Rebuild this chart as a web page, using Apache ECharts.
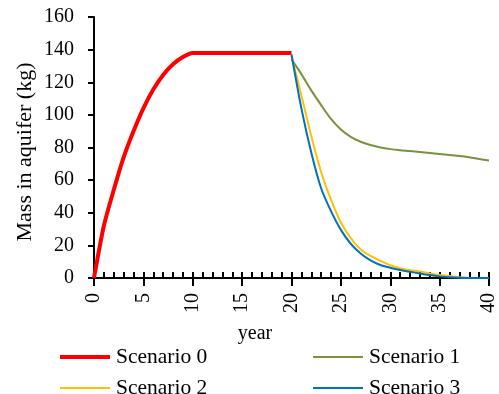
<!DOCTYPE html>
<html><head><meta charset="utf-8">
<script src="https://cdn.jsdelivr.net/npm/echarts@6/dist/echarts.min.js"></script>
<style>html,body{margin:0;padding:0;background:#fff}#c{width:499px;height:394px}</style>
</head><body><div id="c"></div>
<script>
const years0 = [0,1,2,3,4,5,6,7,8,9,10,11,12,13,14,15,16,17,18,19,20];
const scen0 = [0,32,54,74,90,104,115.5,124.5,131,135.5,138,138,138,138,138,138,138,138,138,138,138];
const yearsB = [20,21,22,23,24,25,26,27,28,29,30,31,32,33,34,35,36,37,38,39,40];
const scen1 = [134,125,115,106,97.5,91,86.5,83.5,81.5,80,79,78.3,77.8,77.2,76.6,76,75.4,74.8,74,73,72];
const scen2 = [136,112,87,65,48,34,24.5,17.5,13.5,10.5,7.8,6,4.8,4,2.8,1.9,1.2,0.4,0,0,0];
const scen3 = [137,104,77,55,41,29.5,21,15,10.8,8,6.3,4.9,3.8,2.8,1.8,1,0.4,0.1,0,0,0];
const xTicks = {min:0, max:40, interval:5};
const yTicks = {min:0, max:160, interval:20};
const names = ['Scenario 0','Scenario 1','Scenario 2','Scenario 3'];

const zip = (xs, ys) => xs.map((x,i)=>[x, ys[i]]);
const FONT = '"Liberation Serif","Times New Roman",serif';
const chart = echarts.init(document.getElementById('c'));
const colors = ['#FF0000','#77933C','#FFC000','#0070C0'];
const widths = [4,2,2,2];
const mk = (i, xs, ys) => ({
  name:names[i], type:'line', xAxisIndex:0, yAxisIndex:0, data: zip(xs, ys),
  showSymbol:false, symbol:'none', smooth:0.25,
  lineStyle:{color:colors[i], width:widths[i]}, itemStyle:{color:colors[i]}, z: i===0?3:2
});
const lg = (i, left, top) => ({
  data:[{name:names[i], icon:'rect'}], orient:'horizontal', left, top,
  itemWidth:50, itemHeight:widths[i], itemGap:0,
  itemStyle:{color:colors[i], borderWidth:0},
  textStyle:{fontSize:21.5, color:'#000', fontFamily:FONT, lineHeight:22, padding:[0,0,0,1]}
});
chart.setOption({
  animation:false,
  textStyle:{fontFamily:FONT},
  grid:{left:94, right:8, top:17, bottom:116},
  xAxis:[{
    type:'value', position:'bottom', min:xTicks.min, max:xTicks.max, interval:xTicks.interval,
    axisLine:{lineStyle:{color:'#000', width:2}},
    axisTick:{show:true, inside:false, length:8, lineStyle:{color:'#000', width:2}},
    axisLabel:{rotate:90, margin:15, color:'#000', fontSize:20, fontFamily:FONT},
    splitLine:{show:false}
  },{
    type:'value', position:'bottom', min:xTicks.min, max:xTicks.max, interval:1,
    axisLine:{show:false},
    axisTick:{show:true, inside:true, length:6, lineStyle:{color:'#000', width:2}},
    axisLabel:{show:false}, splitLine:{show:false}
  }],
  yAxis:{
    type:'value', min:yTicks.min, max:yTicks.max, interval:yTicks.interval,
    axisLine:{show:true, lineStyle:{color:'#000', width:2}},
    axisTick:{show:true, inside:false, length:6, lineStyle:{color:'#000', width:2}},
    axisLabel:{margin:20, color:'#000', fontSize:20, fontFamily:FONT},
    splitLine:{show:false}
  },
  legend:[lg(0,55,341), lg(2,55,372), lg(1,308,341), lg(3,308,372)],
  graphic:[
    {type:'text', x:255, y:334, style:{text:'year', font:'20px '+FONT, fill:'#000', align:'center', verticalAlign:'middle'}},
    {type:'text', x:25, y:152, rotation:Math.PI/2, style:{text:'Mass in aquifer (kg)', font:'22px '+FONT, fill:'#000', align:'center', verticalAlign:'middle'}}
  ],
  series:[
    mk(0, years0, scen0),
    mk(1, yearsB, scen1),
    mk(2, yearsB, scen2),
    mk(3, yearsB, scen3)
  ]
});
</script></body></html>
